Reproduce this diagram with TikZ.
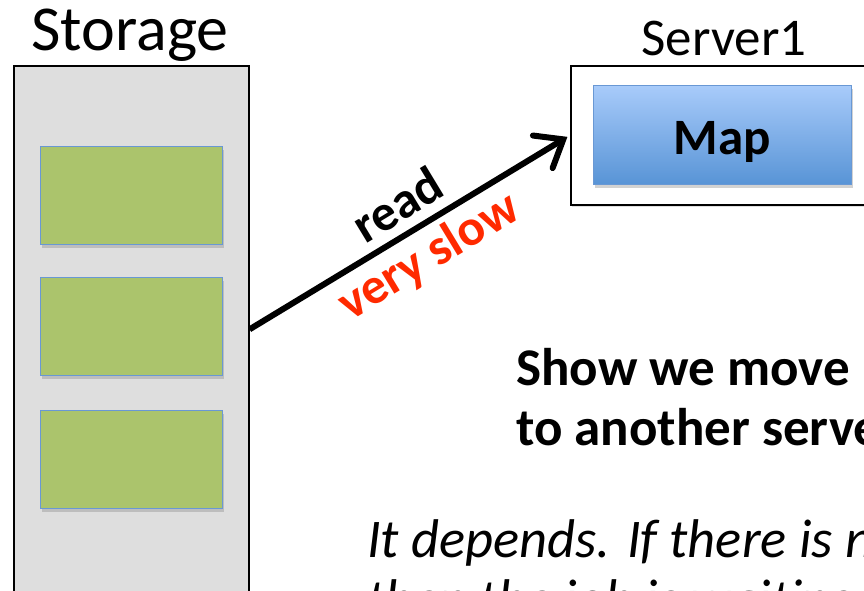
\documentclass[tikz,border=0pt]{standalone}
\usepackage{fontspec}
\setmainfont{Carlito}
\usepackage{xcolor}
\usepackage{tikz}
\usetikzlibrary{arrows.meta,shadows,positioning}

\definecolor{storegray}{RGB}{222,222,222}
\definecolor{chunkgreen}{RGB}{171,196,108}
\definecolor{chunkedge}{RGB}{105,152,212}
\definecolor{maptop}{RGB}{168,203,250}
\definecolor{mapbottom}{RGB}{88,148,214}
\definecolor{slowred}{RGB}{255,42,0}

\begin{document}
\begin{tikzpicture}[x=1pt, y=-1pt,
    frame/.style={rectangle, draw, line width=1.6pt, anchor=north west, inner sep=0pt,
      drop shadow={shadow xshift=1pt, shadow yshift=-2pt, opacity=0.25}},
    chunk/.style={rectangle, draw=chunkedge, line width=1.2pt, fill=chunkgreen, anchor=north west,
      minimum width=182pt, minimum height=98pt, inner sep=0pt,
      drop shadow={shadow xshift=1pt, shadow yshift=-3pt, opacity=0.35}},
    mapbox/.style={rectangle, draw=chunkedge, line width=1pt, top color=maptop, bottom color=mapbottom,
      anchor=north west, minimum width=258pt, minimum height=99pt, inner sep=0pt,
      font=\fontsize{51}{60}\selectfont\bfseries,
      drop shadow={shadow xshift=1pt, shadow yshift=-3pt, opacity=0.35}},
    title/.style={anchor=base, inner sep=0pt},
    question/.style={anchor=base west, inner sep=0pt, font=\fontsize{53}{64}\selectfont\bfseries},
    answer/.style={anchor=base west, inner sep=0pt, font=\fontsize{54.5}{66}\selectfont\itshape},
    arrowlbl/.style={sloped, font=\fontsize{51}{60}\selectfont\bfseries},
    readarrow/.style={line width=6pt, -{Straight Barb[length=24pt, width=38pt, line cap=round]}, shorten >=3pt}
  ]
    \useasboundingbox (0,0) rectangle (864,590);
    \clip (0,0) rectangle (864,590);

    % Storage
    \node[frame, fill=storegray, minimum width=235pt, minimum height=527pt] (storage) at (13,65) {};
    \node[title, font=\fontsize{64}{76}\selectfont] (storagelbl) at (130,50) {Storage};
    \node[chunk] (chunk1) at (40,146) {};
    \node[chunk] (chunk2) at (40,277) {};
    \node[chunk] (chunk3) at (40,410) {};

    % Server
    \node[frame, fill=white, minimum width=340pt, minimum height=139pt] (server) at (570,65) {};
    \node[title, font=\fontsize{53}{63}\selectfont] (serverlbl) at (724,55) {Server1};
    \node[mapbox] (map) at (593,85) {\raisebox{-8pt}[33pt][10pt]{Map}};

    % Read
    \draw[readarrow] (storage.east) -- (server.west)
      node[pos=0.51, above=6pt, arrowlbl] (readlbl) {read}
      node[pos=0.51, below=3pt, arrowlbl, text=slowred] (slowlbl) {very slow};

    % Text
    \node[question] (q1) at (516,385) {Show we move};
    \node[question] (q2) at (516,445) {to another server};
    \node[answer] (a1) at (367,557) {It depends. If there is no data locality,};
    \node[answer] (a2) at (367,617) {then the job is waiting at the};
  \end{tikzpicture}
\end{document}
